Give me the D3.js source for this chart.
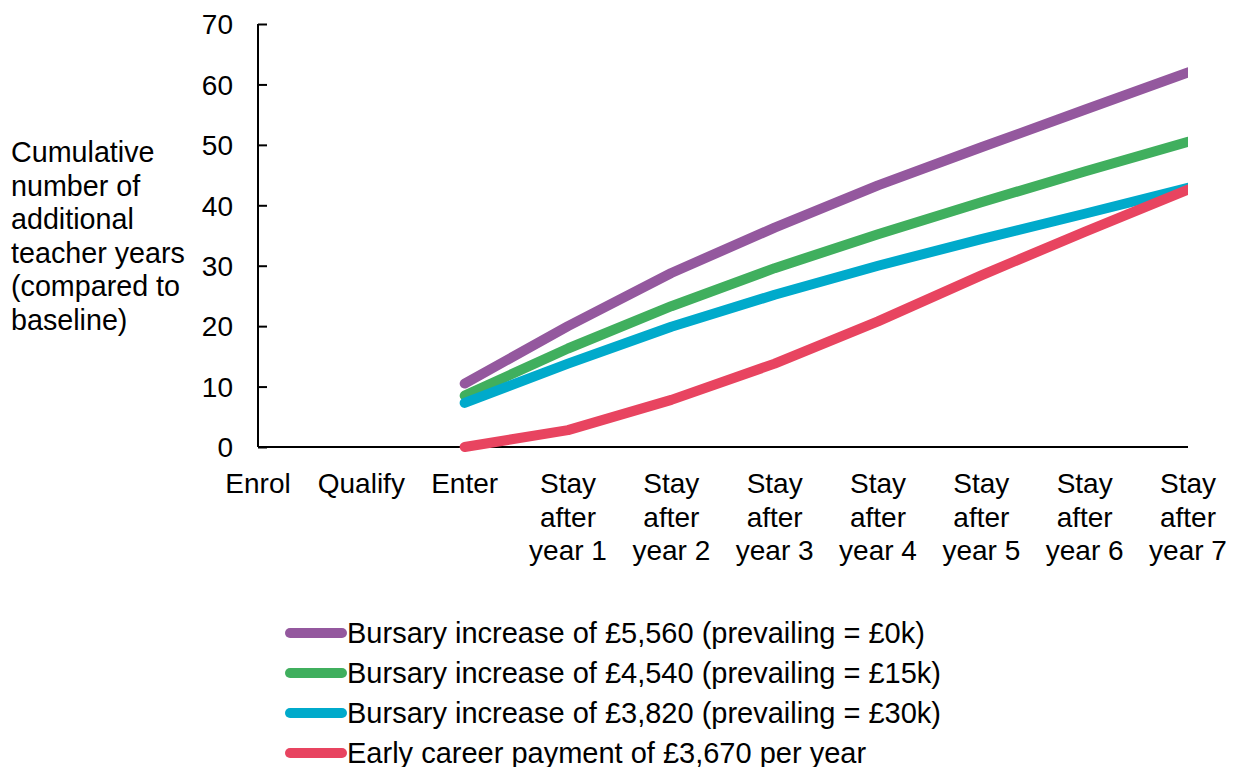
<!DOCTYPE html>
<html>
<head>
<meta charset="utf-8">
<script src="https://cdn.jsdelivr.net/npm/d3@7"></script>
<style>
body { margin: 0; background: #fff; }
text { font-family: "Liberation Sans", Arial, sans-serif; font-size: 28px; fill: #000; }
.legend text { font-size: 29px; }
.title { font-size: 28.7px; }
.axis path, .axis line { stroke: #000; stroke-width: 2; }
</style>
</head>
<body>
<svg id="chart" width="1241" height="767"></svg>
<script>
// categories along the x axis (multi-line labels)
var categories = ["Enrol", "Qualify", "Enter", "Stay after year 1", "Stay after year 2",
    "Stay after year 3", "Stay after year 4", "Stay after year 5", "Stay after year 6", "Stay after year 7"];
var labelLines = [["Enrol"], ["Qualify"], ["Enter"],
    ["Stay", "after", "year 1"], ["Stay", "after", "year 2"], ["Stay", "after", "year 3"],
    ["Stay", "after", "year 4"], ["Stay", "after", "year 5"], ["Stay", "after", "year 6"], ["Stay", "after", "year 7"]];

// series values (null = no value)
var bursary0k = [null, null, 10.5, 20.0, 28.8, 36.3, 43.3, 49.6, 55.8, 62.0];
var bursary15k = [null, null, 8.5, 16.3, 23.3, 29.6, 35.2, 40.5, 45.6, 50.5];
var bursary30k = [null, null, 7.3, 13.8, 19.9, 25.2, 30.0, 34.4, 38.6, 42.9];
var earlyCareer = [null, null, 0.0, 2.8, 7.8, 13.8, 20.8, 28.4, 35.6, 42.6];

var seriesNames = ["Bursary increase of £5,560 (prevailing = £0k)",
    "Bursary increase of £4,540 (prevailing = £15k)",
    "Bursary increase of £3,820 (prevailing = £30k)",
    "Early career payment of £3,670 per year"];
var seriesColors = ["#94589E", "#40AF5E", "#00AACB", "#E84460"];
var yTicks = [0, 10, 20, 30, 40, 50, 60, 70];
var titleLines = ["Cumulative", "number of", "additional", "teacher years", "(compared to", "baseline)"];

var svg = d3.select("#chart");
var x = d3.scalePoint().domain(categories).range([258, 1188]);
var y = d3.scaleLinear().domain([0, 70]).range([447, 24]);

// y axis
var yAxis = svg.append("g")
    .attr("class", "axis")
    .attr("transform", "translate(258,0)")
    .call(d3.axisRight(y).tickValues(yTicks).tickSize(9).tickSizeOuter(0).tickFormat(d3.format("d")));
yAxis.selectAll("text").remove();
yAxis.select(".domain").attr("d", "M0," + y(70) + "V" + y(0));
yAxis.selectAll(".tick").append("text")
    .attr("x", -25)
    .attr("dy", "0.35em")
    .attr("text-anchor", "end")
    .text(function(d) { return d; });

// x axis line
svg.append("line")
    .attr("x1", x(categories[0])).attr("x2", x(categories[categories.length - 1]))
    .attr("y1", y(0)).attr("y2", y(0))
    .attr("stroke", "#000").attr("stroke-width", 2);

// x labels
categories.forEach(function(c, i) {
    var t = svg.append("text")
        .attr("text-anchor", "middle")
        .attr("x", x(c))
        .attr("y", 493);
    labelLines[i].forEach(function(l, j) {
        t.append("tspan").attr("x", x(c)).attr("dy", j ? 33.5 : 0).text(l);
    });
});

// y title
var title = svg.append("text").attr("class", "title").attr("x", 11).attr("y", 162);
titleLines.forEach(function(l, j) {
    title.append("tspan").attr("x", 11).attr("dy", j ? 33.6 : 0).text(l);
});

// clip so line ends are flat at the right edge
svg.append("clipPath").attr("id", "plotclip")
    .append("rect").attr("x", 0).attr("y", 0).attr("width", x(categories[9])).attr("height", 767);

var line = d3.line()
    .defined(function(d) { return d.v !== null; })
    .x(function(d) { return x(d.c); })
    .y(function(d) { return y(d.v); });

var allSeries = [bursary0k, bursary15k, bursary30k, earlyCareer];
allSeries.forEach(function(s, k) {
    var pts = s.map(function(v, i) { return { c: categories[i], v: v }; });
    svg.append("path")
        .datum(pts)
        .attr("clip-path", "url(#plotclip)")
        .attr("fill", "none")
        .attr("stroke", seriesColors[k])
        .attr("stroke-width", 10)
        .attr("stroke-linejoin", "round")
        .attr("stroke-linecap", "round")
        .attr("d", line);
});

// legend
var legend = svg.append("g").attr("class", "legend");
seriesNames.forEach(function(n, k) {
    var yy = 633 + k * 40;
    legend.append("line")
        .attr("x1", 290).attr("x2", 342)
        .attr("y1", yy).attr("y2", yy)
        .attr("stroke", seriesColors[k])
        .attr("stroke-width", 10)
        .attr("stroke-linecap", "round");
    legend.append("text")
        .attr("x", 347).attr("y", yy)
        .attr("dy", "0.35em")
        .text(n);
});
</script>
</body>
</html>
